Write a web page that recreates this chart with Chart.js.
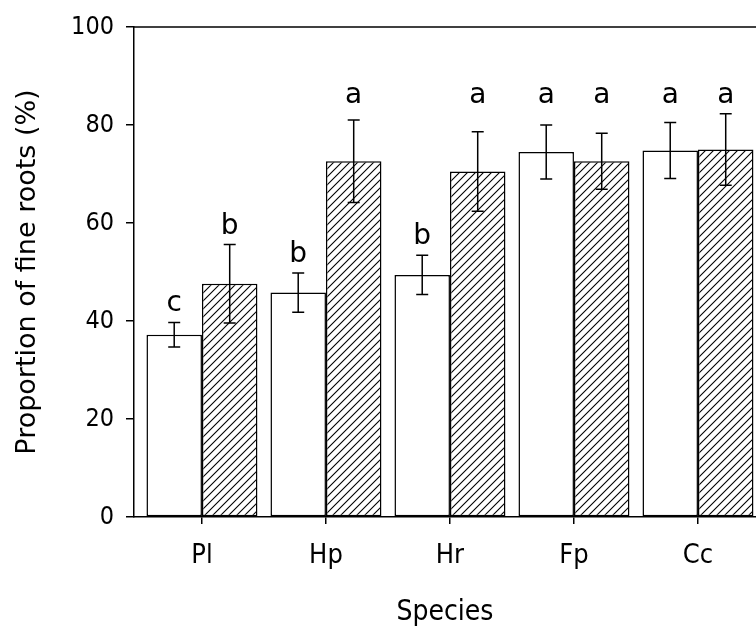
<!DOCTYPE html>
<html>
<head>
<meta charset="utf-8">
<script src="https://cdn.jsdelivr.net/npm/chart.js@4"></script>
<style>
  html, body { margin: 0; padding: 0; background: #fff; overflow: hidden; }
  #wrap { width: 756px; height: 630px; }
</style>
</head>
<body>
<div id="wrap"><canvas id="rootChart" width="756" height="630"></canvas></div>
<script>
// fine-root proportion per species, open vs hatched treatment
const categories = ["Pl", "Hp", "Hr", "Fp", "Cc"];
const openValues = [37.2, 45.8, 49.4, 74.5, 74.8];
const openErrors = [2.5, 4.0, 4.0, 5.5, 5.7];
const openLetters = ["c", "b", "b", "a", "a"];
const hatchValues = [47.6, 72.6, 70.5, 72.6, 75.0];
const hatchErrors = [8.0, 8.4, 8.1, 5.7, 7.3];
const hatchLetters = ["b", "a", "a", "a", "a"];
const yTicks = [0, 20, 40, 60, 80, 100];

const errors = [openErrors, hatchErrors];
const letters = [openLetters, hatchLetters];

// diagonal hatch fill
function makeHatch() {
  const s = 8;
  const c = document.createElement("canvas");
  c.width = s;
  c.height = s;
  const g = c.getContext("2d");
  g.fillStyle = "#fff";
  g.fillRect(0, 0, s, s);
  g.strokeStyle = "#000";
  g.lineWidth = 1.1;
  g.beginPath();
  g.moveTo(0, s); g.lineTo(s, 0);
  g.moveTo(-1, 1); g.lineTo(1, -1);
  g.moveTo(s - 1, s + 1); g.lineTo(s + 1, s - 1);
  g.stroke();
  return g.createPattern(c, "repeat");
}

// error bars + significance letters
const errorBarPlugin = {
  id: "errorBars",
  afterDatasetsDraw(chart) {
    const ctx = chart.ctx;
    const y = chart.scales.y;
    const items = [];
    chart.data.datasets.forEach((ds, d) => {
      const meta = chart.getDatasetMeta(d);
      meta.data.forEach((bar, i) => {
        const v = ds.data[i].y;
        const e = errors[d][i];
        const top = y.getPixelForValue(v + e);
        const bot = y.getPixelForValue(v - e);
        ctx.save();
        ctx.strokeStyle = "#000";
        ctx.lineWidth = 1.5;
        ctx.beginPath();
        ctx.moveTo(bar.x, top); ctx.lineTo(bar.x, bot);
        ctx.moveTo(bar.x - 6, top); ctx.lineTo(bar.x + 6, top);
        ctx.moveTo(bar.x - 6, bot); ctx.lineTo(bar.x + 6, bot);
        ctx.stroke();
        ctx.restore();
        items.push({ x: bar.x, base: top - 11, text: letters[d][i] });
      });
    });
    // the "a" letters share one row
    const aRow = Math.min(...items.filter(t => t.text === "a").map(t => t.base));
    ctx.save();
    ctx.fillStyle = "#000";
    ctx.font = "28px 'DejaVu Sans'";
    ctx.textAlign = "center";
    ctx.textBaseline = "alphabetic";
    items.forEach(t => {
      ctx.fillText(t.text, t.x, t.text === "a" ? aRow : t.base);
    });
    ctx.restore();
  }
};

// top frame line
const frameTopPlugin = {
  id: "frameTop",
  afterDraw(chart) {
    const { ctx, chartArea } = chart;
    ctx.save();
    ctx.strokeStyle = "#000";
    ctx.lineWidth = 1.5;
    ctx.beginPath();
    ctx.moveTo(chartArea.left, chartArea.top);
    ctx.lineTo(chartArea.right, chartArea.top);
    ctx.stroke();
    ctx.restore();
  }
};

Chart.defaults.color = "#000";
Chart.defaults.font.family = "'DejaVu Sans Condensed', 'DejaVu Sans', sans-serif";

new Chart(document.getElementById("rootChart").getContext("2d"), {
  type: "bar",
  data: {
    datasets: [
      {
        label: "open",
        data: openValues.map((v, i) => ({ x: i, y: v })),
        backgroundColor: "#fff",
        borderColor: "#000",
        borderWidth: 1.5,
        borderSkipped: false,
        categoryPercentage: 0.895,
        barPercentage: 1.0,
      },
      {
        label: "hatched",
        data: hatchValues.map((v, i) => ({ x: i, y: v })),
        backgroundColor: makeHatch(),
        borderColor: "#000",
        borderWidth: 1.5,
        borderSkipped: false,
        categoryPercentage: 0.895,
        barPercentage: 1.0,
      },
    ],
  },
  options: {
    responsive: false,
    animation: false,
    layout: { padding: 0 },
    plugins: {
      legend: { display: false },
      tooltip: { enabled: false },
    },
    scales: {
      x: {
        type: "linear",
        offset: false,
        min: -0.548,
        max: 4.468,
        afterBuildTicks: (scale) => {
          scale.ticks = categories.map((_, i) => ({ value: i }));
        },
        afterFit: (scale) => { scale.height = 113; },
        ticks: {
          autoSkip: false,
          maxRotation: 0,
          padding: 16,
          font: { size: 27 },
          callback: (v) => categories[v],
        },
        grid: { offset: false, drawOnChartArea: false, tickLength: 7, color: "#000", lineWidth: 1.5 },
        border: { color: "#000", width: 1.5 },
        title: {
          display: true,
          text: "Species",
          font: { size: 28 },
          padding: { top: 25, bottom: 0 },
        },
      },
      y: {
        min: 0,
        max: 100,
        afterBuildTicks: (scale) => {
          scale.ticks = yTicks.map(v => ({ value: v }));
        },
        afterFit: (scale) => { scale.width = 134; },
        ticks: { padding: 12, font: { size: 25 } },
        grid: { drawOnChartArea: false, tickLength: 8, color: "#000", lineWidth: 1.5 },
        border: { color: "#000", width: 1.5 },
        title: {
          display: true,
          text: "Proportion of fine roots (%)",
          font: { size: 27, family: "'DejaVu Sans', sans-serif" },
          padding: { top: 12, bottom: 0 },
        },
      },
    },
  },
  plugins: [errorBarPlugin, frameTopPlugin],
});
</script>
</body>
</html>
